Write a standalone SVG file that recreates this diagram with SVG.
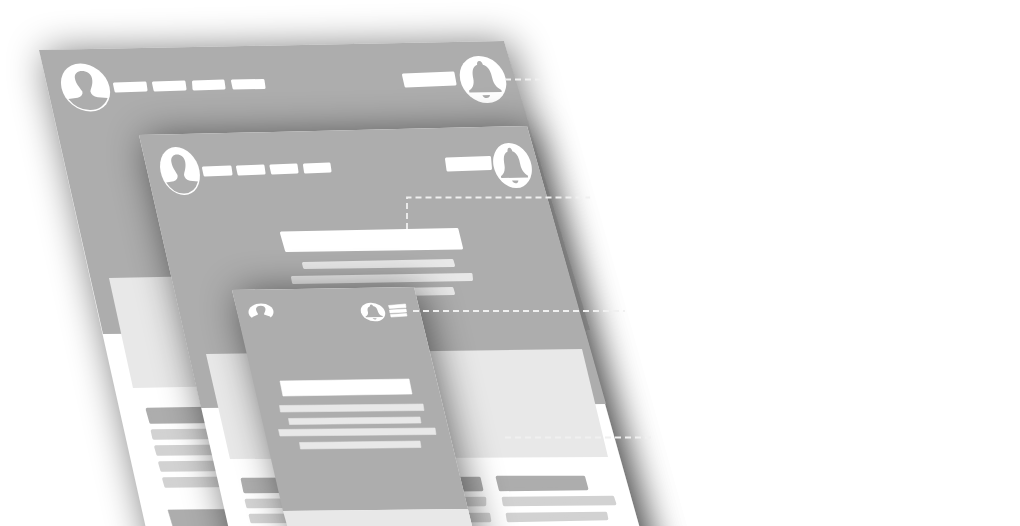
<svg xmlns="http://www.w3.org/2000/svg" width="1020" height="526" viewBox="0 0 1020 526">
<style>
.shadow{fill:#000;opacity:.54;filter:url(#blur)}
.base{fill:#fff}
.grey{fill:#adadad}
.hero{fill:#e8e8e8}
.disc{fill:#fff}
.glyph{fill:#adadad}
.w{fill:#fff;stroke:#fff;stroke-width:3;stroke-linejoin:round}
.l{fill:#e8e8e8;stroke:#e8e8e8;stroke-width:3;stroke-linejoin:round}
.s{fill:#d2d2d2;stroke:#d2d2d2;stroke-width:3.500;stroke-linejoin:round}
.d{fill:#adadad;stroke:#adadad;stroke-width:3.500;stroke-linejoin:round}
.sq{stroke-width:.6}
.dash{fill:none;stroke:#f0f0f0;stroke-width:1.8;stroke-dasharray:6 4}
</style>
<defs>
<filter id="blur" filterUnits="userSpaceOnUse" x="-150" y="-150" width="1320" height="900"><feGaussianBlur stdDeviation="19"/></filter>
<filter id="soft" filterUnits="userSpaceOnUse" x="0" y="0" width="1020" height="526"><feGaussianBlur stdDeviation=".45"/></filter>
<g id="person"><circle class="disc" r="24"/><path class="glyph" d="M-8.500,-9C-8.500,-19 8.500,-19 8.500,-9C8.500,-3 5,1 4,4C4,7 6,9 10,10L19.600,11A22.500,22.500 0 0 1 -19.600,11L-10,10C-6,9 -4,7 -4,4C-5,1 -8.500,-3 -8.500,-9Z"/></g>
<g id="bell"><circle class="disc" r="24"/><path class="glyph" d="M0,-19C2,-19 3,-17 3,-15C9,-13 10,-7 10,-1C10,5 13,9 17,11L17,13L-17,13L-17,11C-13,9 -10,5 -10,-1C-10,-7 -9,-13 -3,-15C-3,-17 -2,-19 0,-19ZM-4,16L4,16C3,20 -3,20 -4,16Z"/></g>
</defs>
<rect width="1020" height="526" fill="#fff"/>
<g filter="url(#soft)">
<g id="plane-desktop">
<polygon class="shadow" points="43,53 508,44 664,603 166,603"/>
<polygon class="base" points="39,50 504,41 660,600 162,600"/>
<polygon class="grey" points="39,50 504,41 590,330 103,334"/>
<polygon class="hero" points="109,278 310,274 340,384 133,388"/>
<use href="#person" transform="matrix(1,-.02,.225,1,85.5,87.5)"/>
<polygon class="w" points="114.500,84 145,83 146,90 116,91"/>
<polygon class="w" points="153.500,83 184,82 185,89 155,90"/>
<polygon class="w" points="193.500,82 223,81 224,88 194,89"/>
<polygon class="w" points="232.500,81 263,80.500 264,87.500 234,88"/>
<polygon class="w" points="403.500,75 453,73 455,84 406,86"/>
<use href="#bell" transform="matrix(.95,-.02,.2,.98,483,79.500)"/>
<polygon class="d" points="147.500,409.500 240,408 244,421 151,422"/>
<polygon class="s" points="152.500,431 250,430 252,437 154,438"/>
<polygon class="s" points="156,447 250,446 252,453 158,454"/>
<polygon class="s" points="160,463 260,462 262,469 162,470"/>
<polygon class="s" points="164,479 260,478 262,485 166,486"/>
<polygon class="d sq" points="168,510 260,509 270,530 174,530"/>
</g>
<g id="plane-tablet">
<polygon class="shadow" points="143,138 531,129 664,603 249,603"/>
<polygon class="base" points="139,135 527,126 660,600 245,600"/>
<polygon class="grey" points="139,135 527,126 606,404 201,408"/>
<polygon class="hero" points="206,354 582,349 608,457 230,459"/>
<use href="#person" transform="matrix(.81,-.02,.19,1,180,171)"/>
<polygon class="w" points="203.500,168 230,167 231,174 205,175"/>
<polygon class="w" points="237.500,167 263,166 264,173 239,174"/>
<polygon class="w" points="271,166 296,165 297,172 272.500,173"/>
<polygon class="w" points="304.500,165 329,164 330,171 305.500,172"/>
<polygon class="w" points="446.500,159 489.500,157.500 490.500,168.500 448,170"/>
<use href="#bell" transform="matrix(.79,-.02,.17,.94,512.500,165.500)"/>
<polygon class="w" points="281.500,233 457,229.500 461.500,248 286.500,250.500"/>
<polygon class="l" points="303.500,263.500 452,260.500 453.500,265.500 304.500,267.500"/>
<polygon class="l" points="292.500,277.500 471,274.500 471.500,279.500 293.500,282.500"/>
<polygon class="l" points="304,291 452,288.500 453.500,293.500 305,296"/>
<polygon class="d" points="242.500,479.500 479,478.500 481.500,489.500 245,491.500"/>
<polygon class="s" points="246.500,500.500 484.500,498.500 484.500,504.500 248,506.500"/>
<polygon class="s" points="250.500,515.500 488.500,514.500 489.500,520.500 252,521.500"/>
<polygon class="d" points="497.500,477.500 583.500,477.500 586.500,488.500 500.500,489.500"/>
<polygon class="s" points="503.500,498.500 612.500,497.500 614.500,503.500 504.500,504.500"/>
<polygon class="s" points="507.500,514.500 605.500,513.500 606.500,518.500 508.500,520.500"/>
</g>
<g id="plane-phone">
<polygon class="shadow" points="236,293 418,290 494,603 312,603"/>
<polygon class="base" points="232,290 414,287 490,600 308,600"/>
<polygon class="grey" points="232,290 414,287 468,509 283,511"/>
<polygon class="hero" points="283,511 468,509 490,600 308,600"/>
<ellipse class="disc" cx="261" cy="312" rx="12.500" ry="8.500"/>
<path class="glyph" d="M256,309C256,304.500 265.500,304.500 265.500,309C265.500,311.500 264,313 264,314.500L270,316.500L273,322L250,322L252.500,317L258,314.500C258,313 256,311.500 256,309Z"/>
<use href="#bell" transform="matrix(.5,-.01,.1,.39,373,312)"/>
<polygon class="w sq" points="388.500,305.500 405.500,304 406,307.500 389.500,308.500"/>
<polygon class="w sq" points="389.500,310 406,309 406.500,312 390,313"/>
<polygon class="w sq" points="390.500,314.500 406.500,313.500 407,316 391,317"/>
<polygon class="w sq" points="280,381 409,379 412,394 283,396"/>
<polygon class="l sq" points="279.500,405.500 423,404 424,410.500 280.500,412"/>
<polygon class="l sq" points="288.500,418.500 420,417 421,423 289.500,424.500"/>
<polygon class="l sq" points="278.500,429.500 435,428 436,434.500 280,436"/>
<polygon class="l sq" points="299.500,442.500 420,441 421,447.500 300.500,449"/>
</g>
<g id="connectors">
<path class="dash" d="M505,79.500H545"/>
<path class="dash" d="M407,229V197.500H590"/>
<path class="dash" d="M413,311H625"/>
<path class="dash" d="M505,437.500H655"/>
</g>
</g>
</svg>
